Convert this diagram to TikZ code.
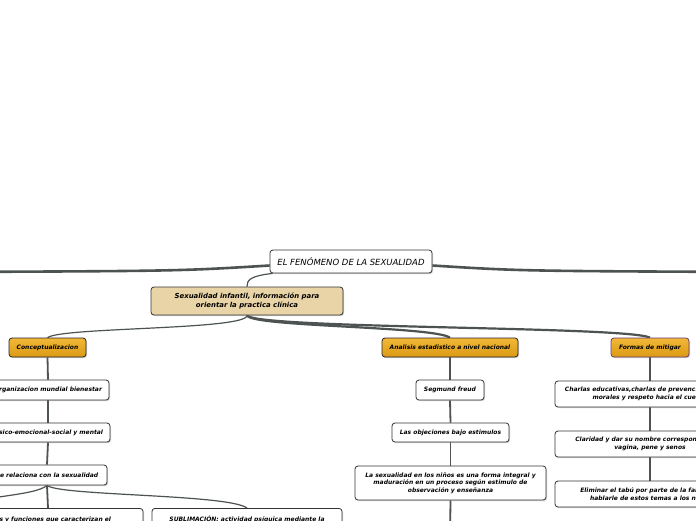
\documentclass[tikz,border=0pt]{standalone}
\usepackage{fontspec}
\setmainfont{DejaVu Sans}
\usetikzlibrary{shadows}
\pgfdeclarelayer{bg}
\pgfsetlayers{bg,main}
\definecolor{linec}{HTML}{4D5252}
\definecolor{bordc}{HTML}{333333}
\definecolor{tanf}{HTML}{E9D4A7}
\definecolor{orgtop}{HTML}{F2B838}
\definecolor{orgbot}{HTML}{DB9A14}
\definecolor{purb}{HTML}{6B3A70}
\tikzset{
  base/.style={draw=bordc, line width=0.8pt, rounded corners=3pt, align=center, inner sep=1pt,
    font=\fontsize{6.0}{7.6}\selectfont\bfseries\itshape, text=black,
    drop shadow={shadow xshift=1pt, shadow yshift=-1.2pt, opacity=0.35}},
  wbox/.style={base, fill=white},
  rootbox/.style={base, fill=white, font=\fontsize{8.5}{10}\selectfont\itshape},
  tanbox/.style={base, fill=tanf, font=\fontsize{6.9}{8.6}\selectfont\bfseries\itshape},
  orgbox/.style={base, draw=black!85, top color=orgtop, bottom color=orgbot},
  mainln/.style={draw=linec, line width=2.6pt},
  thinln/.style={draw=linec, line width=1.2pt},
  midln/.style={draw=linec, line width=2.2pt},
  vln/.style={draw=linec, line width=1.8pt},
}
\begin{document}
\begin{tikzpicture}[x=1pt,y=-1pt]
\useasboundingbox (0,0) rectangle (696,520);

\coordinate (offL) at (-60,272);
\coordinate (offR) at (760,272);
\coordinate (offLL) at (-70,510);
\coordinate (offB1) at (450,540);

\node[rootbox, minimum width=162pt, minimum height=23pt] (root) at (351,261.5) {EL FENÓMENO DE LA SEXUALIDAD};
\node[tanbox, minimum width=192pt, minimum height=28pt] (child) at (247,301) {Sexualidad infantil, información para\\orientar la practica clínica};

\node[orgbox, minimum width=77pt, minimum height=19pt] (conc) at (47.5,347.5) {Conceptualizacion};
\node[orgbox, minimum width=136pt, minimum height=19pt] (anal) at (450,347.5) {Analisis estadistico a nivel nacional};
\node[orgbox, draw=purb, minimum width=78pt, minimum height=19pt] (form) at (650,347.5) {Formas de mitigar};

\node[wbox, minimum width=122pt, minimum height=20pt] (c1) at (48,390) {Organizacion mundial bienestar};
\node[wbox, minimum width=124pt, minimum height=19pt] (c2) at (48,432.5) {Físico-emocional-social y mental};
\node[wbox, minimum width=120pt, minimum height=20pt] (c3) at (47,475) {Se relaciona con la sexualidad};
\node[wbox, anchor=north, minimum width=190pt, minimum height=22pt] (c4) at (48,508) {Roles y funciones que caracterizan el};
\node[wbox, anchor=north, minimum width=190pt, minimum height=22pt] (c5) at (247,508) {SUBLIMACIÓN: actividad psíquica mediante la};

\node[wbox, minimum width=68pt, minimum height=20pt] (a1) at (450,390) {Segmund freud};
\node[wbox, minimum width=117pt, minimum height=19pt] (a2) at (450.5,432.5) {Las objeciones bajo estimulos};
\node[wbox, minimum width=191pt, minimum height=34pt] (a3) at (450.5,483) {La sexualidad en los niños es una forma integral y\\maduración en un proceso según estimulo de\\observación y enseñanza};

\node[wbox, minimum width=190pt, minimum height=26pt] (f1) at (650,394) {Charlas educativas,charlas de prevención, valores\\morales y respeto hacia el cuerpo};
\node[wbox, minimum width=190pt, minimum height=26pt] (f2) at (650,444) {Claridad y dar su nombre correspondiente a\\vagina, pene y senos};
\node[wbox, minimum width=190pt, minimum height=26pt] (f3) at (650,494) {Eliminar el tabú por parte de la familia al\\hablarle de estos temas a los niños};

\begin{pgfonlayer}{bg}
\fill[white] (0,0) rectangle (696,520);
\path[mainln] ([yshift=-4pt]root.west) .. controls (180,271) .. (offL);
\path[mainln] ([yshift=-4pt]root.east) .. controls (520,271) .. (offR);
\path[thinln] ([xshift=3pt]root.south west) .. controls (250,276) and (247,280) .. (child.north);
\path[thinln] (child.south) .. controls (247,330) and (62,327) .. (conc.north);
\path[midln] (child.south) .. controls (252,327) and (432,326) .. (anal.north);
\path[midln] (child.south) .. controls (256,329) and (625,326) .. (form.north);

\path[vln] (conc.south) -- (c1.north);
\path[vln] (c1.south) -- (c2.north);
\path[vln] (c2.south) -- (c3.north);
\path[vln] (c3.south) -- (c4.north);
\path[thinln] (c3.south) .. controls (60,496) and (228,494) .. (c5.north);
\path[thinln] (c3.south) .. controls (35,496) and (-20,496) .. (offLL);

\path[vln] (anal.south) -- (a1.north);
\path[vln] (a1.south) -- (a2.north);
\path[vln] (a2.south) -- (a3.north);
\path[vln] (a3.south) -- (offB1);

\path[vln] (form.south) -- (f1.north);
\path[vln] (f1.south) -- (f2.north);
\path[vln] (f2.south) -- (f3.north);
\end{pgfonlayer}
\end{tikzpicture}
\end{document}
